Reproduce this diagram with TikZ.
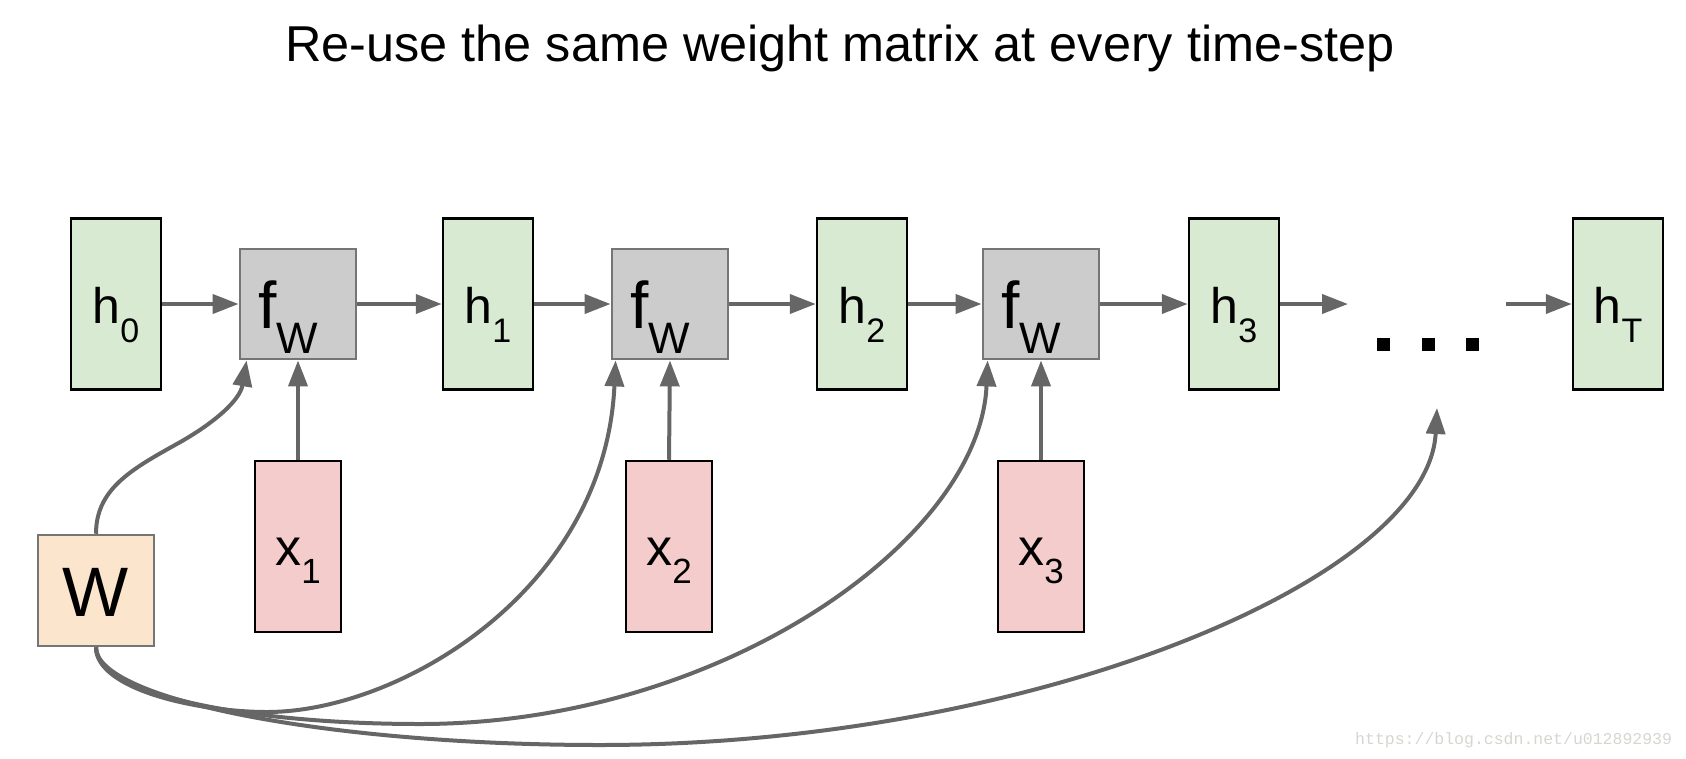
\documentclass[tikz,border=0pt]{standalone}
\usepackage{fontspec}
\setmainfont{Liberation Sans}
\newfontfamily\wmfont{Liberation Mono}
\usetikzlibrary{arrows.meta}
\definecolor{hfill}{HTML}{D9EAD3}
\definecolor{xfill}{HTML}{F4CCCC}
\definecolor{wfill}{HTML}{FCE5CD}
\definecolor{ffill}{HTML}{CCCCCC}
\definecolor{linegray}{HTML}{666666}
\definecolor{bordergray}{HTML}{757575}
\definecolor{wmgray}{HTML}{D6D6D0}
\newcommand\mylbl[5]{{\fontsize{#2}{#2}\selectfont #1}\raisebox{-#5pt}{\fontsize{#4}{#4}\selectfont #3}}
\begin{document}
\begin{tikzpicture}[x=1pt,y=-1pt,
  hbox/.style={draw=black,line width=2.5pt,fill=hfill,minimum width=90pt,minimum height=171pt,inner sep=0pt},
  xbox/.style={draw=black,line width=2.5pt,fill=xfill,minimum width=86pt,minimum height=171pt,inner sep=0pt},
  fbox/.style={draw=bordergray,line width=2.8pt,fill=ffill,minimum width=116pt,minimum height=110pt,inner sep=0pt},
  wbox/.style={draw=bordergray,line width=2.5pt,fill=wfill,minimum width=116pt,minimum height=111pt,inner sep=0pt},
  dotsq/.style={fill=black,minimum size=13pt,inner sep=0pt},
  conn/.style={draw=linegray,line width=4pt,-{Triangle[length=26pt,width=19pt]}},
  lab/.style={anchor=base,inner sep=0pt},
]
\useasboundingbox (0,0) rectangle (1686,758);

\node[anchor=base,inner sep=0pt] (title) at (840,61) {\fontsize{50.4}{51}\selectfont Re-use the same weight matrix at every time-step};

% hidden states
\node[hbox] (h0) at (116,304) {};
\node[hbox] (h1) at (488,304) {};
\node[hbox] (h2) at (862,304) {};
\node[hbox] (h3) at (1234,304) {};
\node[hbox] (hT) at (1618,304) {};
% function boxes
\node[fbox] (f1) at (298,304) {};
\node[fbox] (f2) at (670,304) {};
\node[fbox] (f3) at (1041,304) {};
% inputs
\node[xbox] (x1) at (298,546.5) {};
\node[xbox] (x2) at (669,546.5) {};
\node[xbox] (x3) at (1041,546.5) {};
% weight
\node[wbox] (W) at (96,590.5) {};

% labels
\node[lab] (h0l) at ([yshift=-19pt]h0.center) {\mylbl{h}{50}{0}{34}{19}};
\node[lab] (h1l) at ([yshift=-19pt]h1.center) {\mylbl{h}{50}{1}{34}{19}};
\node[lab] (h2l) at ([yshift=-19pt]h2.center) {\mylbl{h}{50}{2}{34}{19}};
\node[lab] (h3l) at ([yshift=-19pt]h3.center) {\mylbl{h}{50}{3}{34}{19}};
\node[lab] (hTl) at ([yshift=-19pt]hT.center) {\mylbl{h}{50}{T}{34}{19}};
\node[lab] (f1l) at ([xshift=-10pt,yshift=-24pt]f1.center) {\mylbl{f}{66}{W}{44}{25}};
\node[lab] (f2l) at ([xshift=-10pt,yshift=-24pt]f2.center) {\mylbl{f}{66}{W}{44}{25}};
\node[lab] (f3l) at ([xshift=-10pt,yshift=-24pt]f3.center) {\mylbl{f}{66}{W}{44}{25}};
\node[lab] (x1l) at ([yshift=-18.5pt]x1.center) {\mylbl{x}{52}{1}{35}{18}};
\node[lab] (x2l) at ([yshift=-18.5pt]x2.center) {\mylbl{x}{52}{2}{35}{18}};
\node[lab] (x3l) at ([yshift=-18.5pt]x3.center) {\mylbl{x}{52}{3}{35}{18}};
\node[lab] (Wl) at ([yshift=-26pt]W.center) {\fontsize{70}{70}\selectfont W};

% dots
\node[dotsq] (d1) at (1383,344) {};
\node[dotsq] (d2) at (1428,344) {};
\node[dotsq] (d3) at (1472,344) {};

\coordinate (a1) at (1348,304);
\coordinate (a2) at (1506,304);
\coordinate (dtip) at (1437,408);

% horizontal chain
\draw[conn] (h0.east) -- (f1.west);
\draw[conn] (f1.east) -- (h1.west);
\draw[conn] (h1.east) -- (f2.west);
\draw[conn] (f2.east) -- (h2.west);
\draw[conn] (h2.east) -- (f3.west);
\draw[conn] (f3.east) -- (h3.west);
\draw[conn] (h3.east) -- (a1);
\draw[conn] (a2) -- (hT.west);

% inputs
\draw[conn] (x1.north) -- (f1.south);
\draw[conn] (x2.north) -- (f2.south);
\draw[conn] (x3.north) -- (f3.south);

% weight curves
\draw[conn] (W.north) .. controls (96,490) and (130,470) .. (175,445)
  .. controls (215,423) and (240,400) .. ([xshift=8pt]f1.south west);
\draw[conn] (W.south) .. controls (96,690) and (200,712) .. (267,712)
  .. controls (400,712) and (605,590) .. ([xshift=5pt]f2.south west);
\draw[conn] (W.south) .. controls (96,695) and (250,724) .. (420,724)
  .. controls (720,724) and (980,540) .. ([xshift=6pt]f3.south west);
\draw[conn] (W.south) .. controls (96,700) and (330,745) .. (600,745)
  .. controls (1030,745) and (1428,580) .. (dtip);

\node[anchor=base west,inner sep=0pt,text=wmgray] (wm) at (1355,744) {\wmfont\fontsize{16.5}{17}\selectfont https://blog.csdn.net/u012892939};
\end{tikzpicture}
\end{document}
